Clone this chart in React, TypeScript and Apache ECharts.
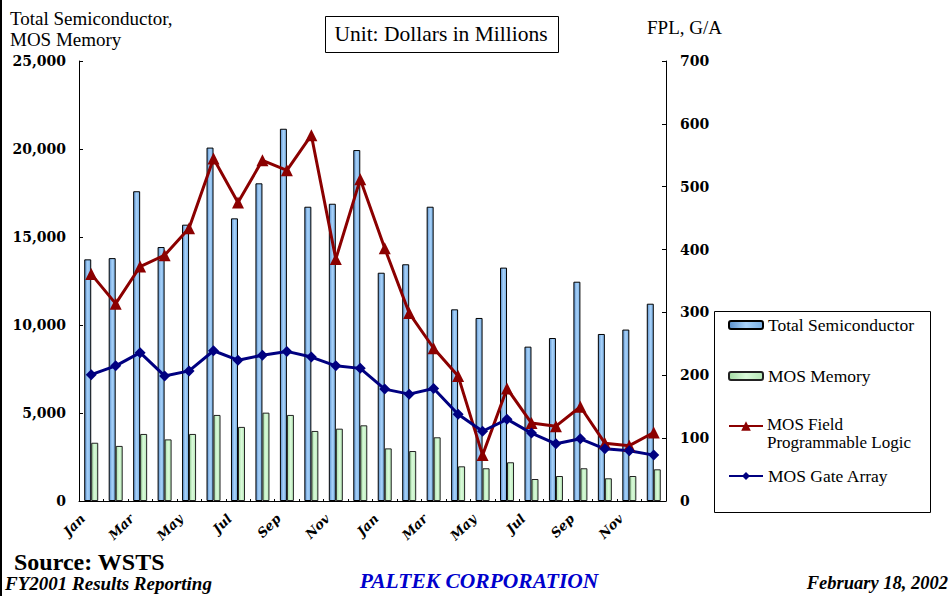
import React, { useEffect, useRef } from "react";
import * as echarts from "echarts";

const months = ["Jan","Feb","Mar","Apr","May","Jun","Jul","Aug","Sep","Oct","Nov","Dec",
  "Jan","Feb","Mar","Apr","May","Jun","Jul","Aug","Sep","Oct","Nov","Dec"];
const totalSemi = [13730, 13800, 17600, 14430, 15700, 20080, 16060, 18050, 21150, 16720, 16890, 19940,
  12970, 13450, 16720, 10890, 10400, 13260, 8770, 9260, 12460, 9490, 9740, 11210];
const mosMemory = [3310, 3130, 3810, 3500, 3810, 4890, 4210, 5020, 4890, 3980, 4110, 4300,
  2990, 2840, 3620, 1970, 1860, 2200, 1250, 1420, 1860, 1290, 1420, 1800];
const mosFPL = [361, 314, 373, 391, 434, 545, 475, 542, 526, 582, 385, 512,
  402, 299, 243, 199, 73, 179, 124, 119, 150, 92, 88, 109];
const mosGateArray = [201, 215, 236, 199, 207, 239, 224, 232, 238, 229, 215, 211,
  178, 170, 179, 138, 111, 130, 108, 91, 99, 83, 80, 73];
const leftTicks = [0, 5000, 10000, 15000, 20000, 25000];
const rightTicks = [0, 100, 200, 300, 400, 500, 600, 700];

const SERIF = "Liberation Serif";
const WIDE = "DejaVu Serif";

export default function App() {
  const ref = useRef<HTMLDivElement>(null);
  useEffect(() => {
    const chart = echarts.init(ref.current!, null, { renderer: "svg" });
    const blueGrad = new echarts.graphic.LinearGradient(0, 0, 1, 0, [
      { offset: 0, color: "#5A90CC" },
      { offset: 0.5, color: "#A8D2FA" },
      { offset: 1, color: "#78AEE2" },
    ]);
    const greenGrad = new echarts.graphic.LinearGradient(0, 0, 1, 0, [
      { offset: 0, color: "#A4DCA4" },
      { offset: 0.5, color: "#DAFADA" },
      { offset: 1, color: "#B6E8B6" },
    ]);
    const legendText = { fontFamily: SERIF, fontSize: 17.5, color: "#000" };
    chart.setOption({
      animation: false,
      backgroundColor: "#fff",
      grid: { left: 79, right: 284, top: 61, bottom: 95, containLabel: false },
      xAxis: {
        type: "category",
        data: months,
        boundaryGap: true,
        axisLine: { lineStyle: { color: "#000", width: 1 } },
        axisTick: { show: true, inside: true, length: 2, interval: 0, lineStyle: { color: "#000" } },
        axisLabel: {
          interval: 1,
          rotate: 45,
          margin: 7,
          padding: [0, 12, 0, 0],
          fontFamily: WIDE,
          fontWeight: "bold",
          fontStyle: "italic",
          fontSize: 13,
          color: "#000",
        },
      },
      yAxis: [
        {
          type: "value",
          min: leftTicks[0],
          max: leftTicks[leftTicks.length - 1],
          interval: 5000,
          splitLine: { show: false },
          axisLine: { show: true, lineStyle: { color: "#000" } },
          axisTick: { show: true, inside: true, length: 4, lineStyle: { color: "#000" } },
          axisLabel: {
            margin: 13,
            fontFamily: WIDE,
            fontWeight: "bold",
            fontSize: 14,
            color: "#000",
            formatter: (v: number) => v.toLocaleString("en-US"),
          },
        },
        {
          type: "value",
          min: rightTicks[0],
          max: rightTicks[rightTicks.length - 1],
          interval: 100,
          position: "right",
          splitLine: { show: false },
          axisLine: { show: true, lineStyle: { color: "#000" } },
          axisTick: { show: true, inside: true, length: 4, lineStyle: { color: "#000" } },
          axisLabel: {
            margin: 14,
            fontFamily: WIDE,
            fontWeight: "bold",
            fontSize: 14,
            color: "#000",
          },
        },
      ],
      legend: [
        {
          data: ["Total Semiconductor"],
          left: 728, top: 316, itemWidth: 34, itemHeight: 8, itemGap: 5,
          textStyle: legendText, padding: 0,
        },
        {
          data: ["MOS Memory"],
          left: 728, top: 367, itemWidth: 34, itemHeight: 8,
          textStyle: legendText, padding: 0,
        },
        {
          data: ["MOS Field Programmable Logic"],
          left: 728, top: 420, itemWidth: 34, itemHeight: 12,
          formatter: () => "",
          textStyle: legendText,
          padding: 0,
        },
        {
          data: ["MOS Gate Array"],
          left: 728, top: 467, itemWidth: 34, itemHeight: 10,
          textStyle: legendText, padding: 0,
        },
      ],
      series: [
        {
          name: "Total Semiconductor",
          type: "bar",
          data: totalSemi,
          barWidth: 7,
          barGap: "0%",
          itemStyle: { color: blueGrad, borderColor: "#000", borderWidth: 1 },
        },
        {
          name: "MOS Memory",
          type: "bar",
          data: mosMemory,
          barWidth: 7,
          barGap: "0%",
          itemStyle: { color: greenGrad, borderColor: "#222", borderWidth: 1 },
        },
        {
          name: "MOS Field Programmable Logic",
          type: "line",
          yAxisIndex: 1,
          data: mosFPL,
          symbol: "triangle",
          symbolSize: 12,
          lineStyle: { color: "#8B0000", width: 3 },
          itemStyle: { color: "#8B0000" },
        },
        {
          name: "MOS Gate Array",
          type: "line",
          yAxisIndex: 1,
          data: mosGateArray,
          symbol: "diamond",
          symbolSize: 11,
          lineStyle: { color: "#000080", width: 3 },
          itemStyle: { color: "#000080" },
        },
      ],
      graphic: [
        { type: "rect", left: 0, top: 0, shape: { width: 2, height: 596 }, style: { fill: "#000" } },
        { type: "rect", left: 712, top: 309, shape: { width: 216, height: 201 }, style: { fill: "none", stroke: "#000", lineWidth: 1 }, z: -1 },
        { type: "text", x: 767, y: 415, style: { text: "MOS Field\nProgrammable Logic", fontFamily: SERIF, fontSize: 17, lineHeight: 18.5, fill: "#000", verticalAlign: "top" } },
        { type: "text", x: 10, y: 18, style: { text: "Total Semiconductor,", fontFamily: SERIF, fontSize: 19, fill: "#000", verticalAlign: "middle" } },
        { type: "text", x: 10, y: 39, style: { text: "MOS Memory", fontFamily: SERIF, fontSize: 19, fill: "#000", verticalAlign: "middle" } },
        { type: "text", x: 647, y: 27, style: { text: "FPL, G/A", fontFamily: SERIF, fontSize: 19, fill: "#000", verticalAlign: "middle" } },
        { type: "rect", left: 325, top: 16, shape: { width: 233, height: 36 }, style: { fill: "#fff", stroke: "#000", lineWidth: 1 } },
        { type: "text", x: 441, y: 34, style: { text: "Unit: Dollars in Millions", fontFamily: SERIF, fontSize: 21.5, fill: "#000", align: "center", verticalAlign: "middle" } },
        { type: "text", x: 14, y: 562, style: { text: "Source: WSTS", fontFamily: SERIF, fontWeight: "bold", fontSize: 24, fill: "#000", verticalAlign: "middle" } },
        { type: "text", x: 5, y: 583, style: { text: "FY2001 Results Reporting", fontFamily: SERIF, fontWeight: "bold", fontStyle: "italic", fontSize: 19, fill: "#000", verticalAlign: "middle" } },
        { type: "text", x: 479, y: 581, style: { text: "PALTEK CORPORATION", fontFamily: SERIF, fontWeight: "bold", fontStyle: "italic", fontSize: 21.5, fill: "#0000CC", align: "center", verticalAlign: "middle" } },
        { type: "text", x: 948, y: 583, style: { text: "February 18, 2002", fontFamily: SERIF, fontWeight: "bold", fontStyle: "italic", fontSize: 18.5, fill: "#000", align: "right", verticalAlign: "middle" } },
      ],
    });
    return () => chart.dispose();
  }, []);
  return <div ref={ref} style={{ width: 950, height: 596, position: "absolute", left: 0, top: 0 }} />;
}
